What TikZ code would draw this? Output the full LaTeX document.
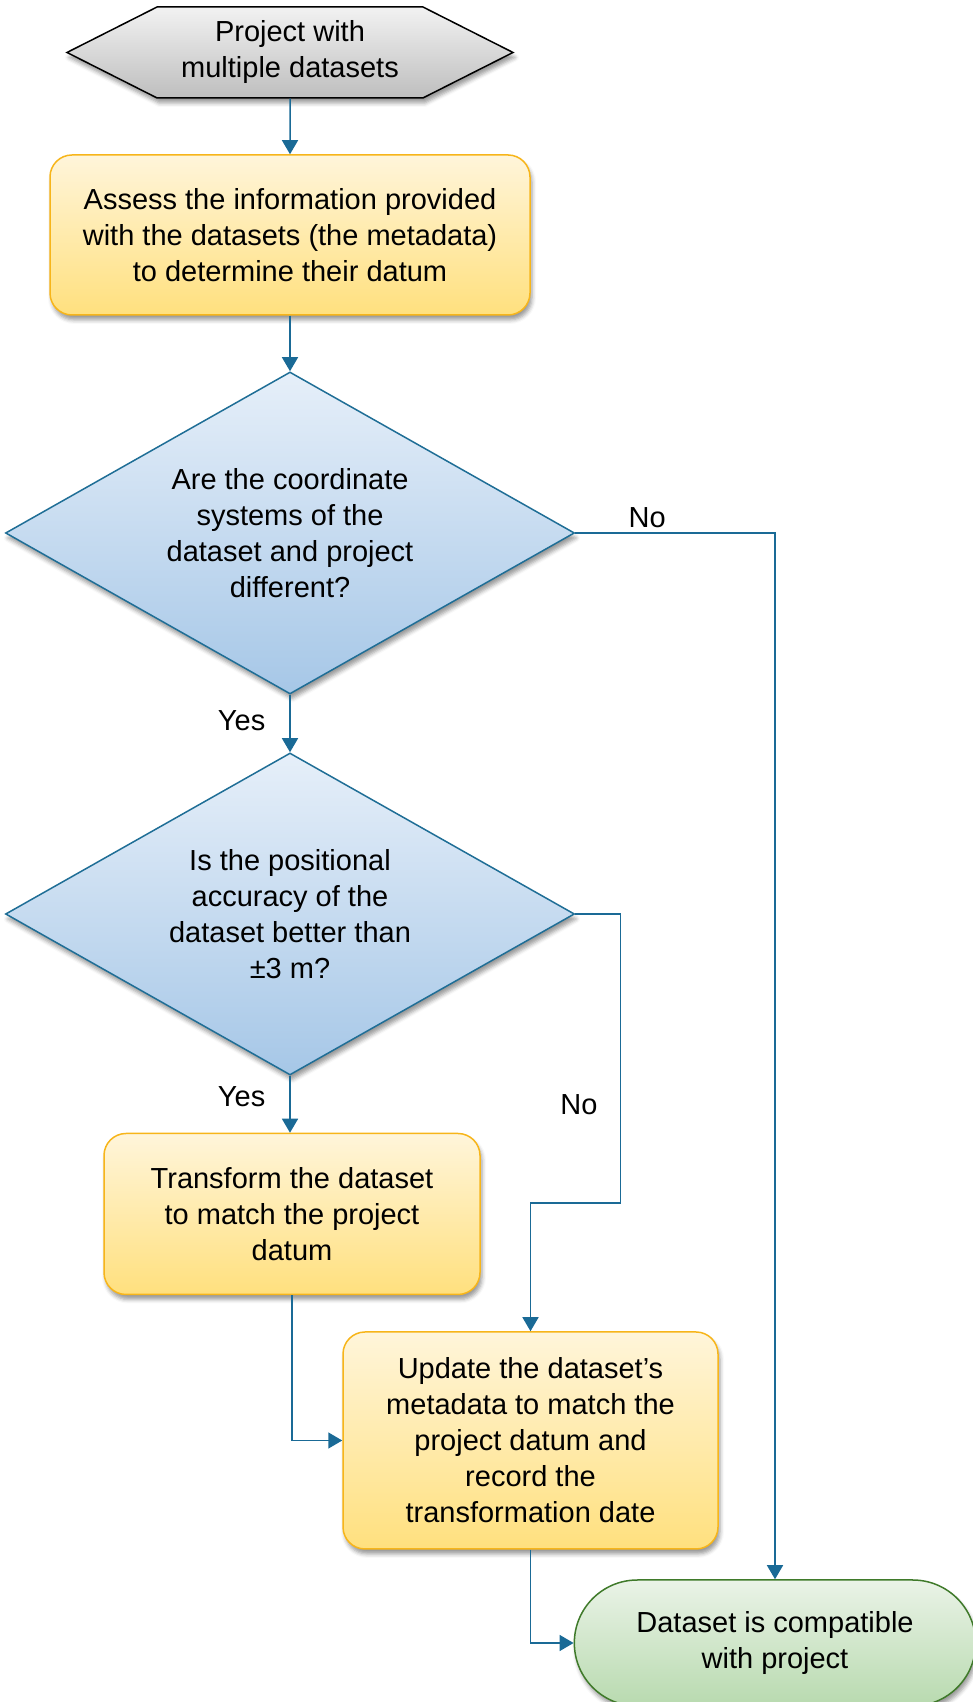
\documentclass[tikz,border=0pt]{standalone}
\usepackage{fontspec}
\setmainfont{Liberation Sans}
\usepackage {tikz}
\usetikzlibrary {positioning}
\usetikzlibrary{shapes.misc}
\usetikzlibrary{shapes.geometric}
\usetikzlibrary{shapes.symbols}
\usetikzlibrary{arrows.meta}
\usetikzlibrary{shadows.blur}
\definecolor{linkblue}{HTML}{1A6A96}
\definecolor{startTop}{HTML}{F2F2F2}
\definecolor{startBot}{HTML}{BEBEBE}
\definecolor{procLine}{HTML}{F7B51A}
\definecolor{procTop}{HTML}{FFF5DA}
\definecolor{procBot}{HTML}{FFE07E}
\definecolor{decLine}{HTML}{1F6E96}
\definecolor{decTop}{HTML}{E6EFF9}
\definecolor{decBot}{HTML}{A6C7E7}
\definecolor{endLine}{HTML}{3F7A2A}
\definecolor{endTop}{HTML}{EAF3E7}
\definecolor{endBot}{HTML}{B8DAAF}
\tikzset{
	boxshadow/.style = {blur shadow={shadow xshift=2pt, shadow yshift=-5pt, shadow blur radius=4pt, shadow opacity=40}},
	startbox/.style = {signal, signal to=west and east, signal pointer angle=53.6, draw=black, line width=1.5pt,
		top color=startTop, bottom color=startBot, minimum width=446pt, minimum height=91pt, boxshadow},
	process/.style = {rectangle, rounded corners=22pt, draw=procLine, line width=1.5pt, top color=procTop, bottom color=procBot, boxshadow},
	decision/.style = {diamond, aspect=1.77, inner sep=0pt, draw=decLine, line width=1.5pt, top color=decTop, bottom color=decBot,
		minimum width=569pt, minimum height=322pt, boxshadow},
	terminal/.style = {rounded rectangle, draw=endLine, line width=1.5pt, top color=endTop, bottom color=endBot,
		minimum width=408pt, minimum height=126pt, boxshadow}}

\begin{document}
\begin{tikzpicture}[x=1pt, y=1pt, on grid, >={Triangle[width=16pt,length=14pt]},
	font=\fontsize{29}{36}\selectfont, align=center,
	link/.style = {draw=linkblue, line width=1.5pt, ->},
	answer/.style = {inner sep=0pt}
	]
	\useasboundingbox (0,0) rectangle (972,1702);
	\node (start) [startbox] at (290,1649.5) {Project with\\multiple datasets};
	\node (assess) [process, minimum width=480pt, minimum height=160pt, below = 182.5pt of start]
		{Assess the information provided\\with the datasets (the metadata)\\to determine their datum};
	\node (coord) [decision, below = 298pt of assess] {Are the coordinate\\systems of the\\dataset and project\\different?};
	\node (accur) [decision, below = 381pt of coord] {Is the positional\\accuracy of the\\dataset better than\\±3 m?};
	\node (trans) [process, minimum width=376pt, minimum height=161pt, below right = 300pt and 2pt of accur]
		{Transform the dataset\\to match the project\\datum};
	\node (update) [process, minimum width=375pt, minimum height=217pt, below right = 226.5pt and 238.5pt of trans]
		{Update the dataset’s\\metadata to match the\\project datum and\\record the\\transformation date};
	\node (done) [terminal, below right = 202.5pt and 244.5pt of update] {Dataset is compatible\\with project};
	\draw [link] (start) -- (assess);
	\draw [link] (assess) -- (coord);
	\draw [link] (coord) -- node [answer, pos=0.45, left=24pt] {Yes} (accur);
	\draw [link] (coord.east) -| node [answer, pos=0.18, above=4pt] {No} (done.north);
	\draw [link] (accur.south) -- node [answer, pos=0.36, left=24pt] {Yes} (accur.south |- trans.north);
	\draw [link] (accur.east) -- ++(45pt,0) |- node [answer, pos=0.33, left=22pt] {No} ([yshift=128pt]update.north) -- (update.north);
	\draw [link] (trans.south) |- (update.west);
	\draw [link] (update.south) |- (done.west);
\end{tikzpicture}
\end{document}
